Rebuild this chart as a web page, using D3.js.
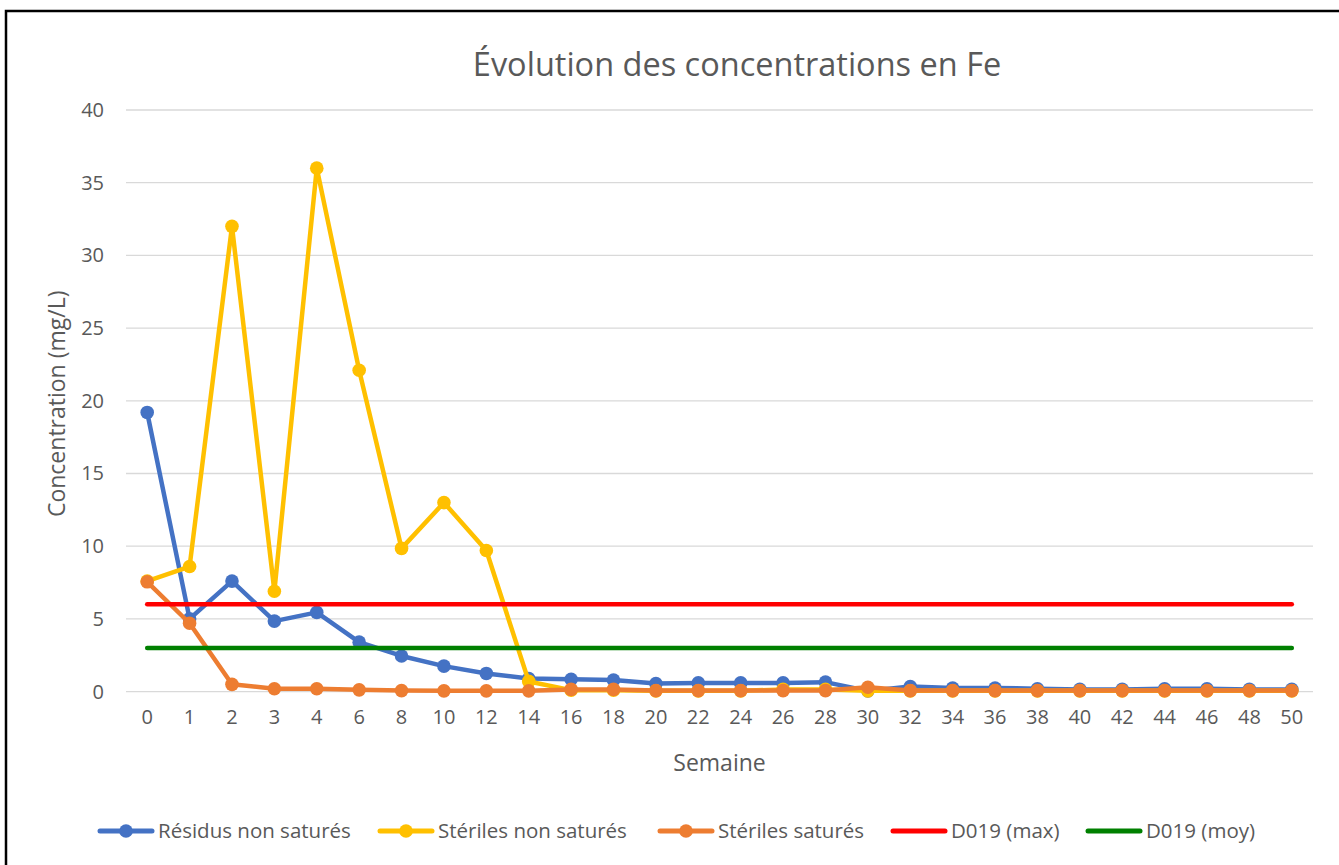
<!DOCTYPE html>
<html>
<head>
<meta charset="utf-8">
<script src="https://cdn.jsdelivr.net/npm/d3@7"></script>
<style>
  body { margin: 0; background: #fff; }
  svg { display: block; font-family: "Open Sans", "Liberation Sans", sans-serif; }
</style>
</head>
<body>
<svg id="chart" width="1339" height="865"></svg>
<script>
// semaines (axe x categoriel)
var weeks = ["0","1","2","3","4","6","8","10","12","14","16","18","20","22","24","26","28","30","32","34","36","38","40","42","44","46","48","50"];

var residusNonSat = [19.2, 5.0, 7.6, 4.85, 5.45, 3.4, 2.45, 1.75, 1.25, 0.9, 0.85, 0.8, 0.55, 0.6, 0.6, 0.6, 0.65, 0.05, 0.35, 0.25, 0.25, 0.2, 0.15, 0.15, 0.2, 0.2, 0.15, 0.15];
var sterilesNonSat = [7.6, 8.6, 32.0, 6.9, 36.0, 22.1, 9.85, 13.0, 9.7, 0.7, 0.1, 0.1, 0.05, 0.05, 0.05, 0.15, 0.15, 0.05, 0.05, 0.05, 0.05, 0.05, 0.05, 0.05, 0.05, 0.05, 0.05, 0.05];
var sterilesSat = [7.55, 4.7, 0.5, 0.2, 0.2, 0.12, 0.07, 0.05, 0.05, 0.05, 0.15, 0.15, 0.07, 0.07, 0.07, 0.07, 0.07, 0.3, 0.07, 0.07, 0.07, 0.07, 0.07, 0.07, 0.07, 0.07, 0.07, 0.07];
var d019max = 6;
var d019moy = 3;

var yTicks = [0, 5, 10, 15, 20, 25, 30, 35, 40];

var series = [
  {name: "Résidus non saturés", color: "#4472C4", values: residusNonSat, marker: true},
  {name: "Stériles non saturés", color: "#FFC000", values: sterilesNonSat, marker: true},
  {name: "Stériles saturés", color: "#ED7D31", values: sterilesSat, marker: true},
  {name: "D019 (max)", color: "#FF0000", values: weeks.map(function() { return d019max; }), marker: false},
  {name: "D019 (moy)", color: "#008000", values: weeks.map(function() { return d019moy; }), marker: false}
];

var svg = d3.select("#chart");
var textColor = "#595959";
var fontFam = "'Open Sans', sans-serif";

var plot = {left: 126, right: 1313, top: 110, bottom: 691.6};

var x = d3.scaleBand().domain(weeks).range([plot.left, plot.right]);
var y = d3.scaleLinear().domain([0, 40]).range([plot.bottom, plot.top]);
var cx = function(i) { return x(weeks[i]) + x.bandwidth() / 2; };

// cadre
svg.append("rect")
  .attr("x", 6).attr("y", 11)
  .attr("width", 1400).attr("height", 900)
  .attr("fill", "none").attr("stroke", "#000").attr("stroke-width", 2.5);

// titre
svg.append("text")
  .attr("x", 737).attr("y", 76)
  .attr("text-anchor", "middle")
  .attr("fill", textColor)
  .style("font-size", "32.5px")
  .text("Évolution des concentrations en Fe");

// grille
svg.append("g").selectAll("line").data(yTicks).enter().append("line")
  .attr("x1", plot.left).attr("x2", plot.right)
  .attr("y1", function(d) { return y(d); }).attr("y2", function(d) { return y(d); })
  .attr("stroke", "#D9D9D9").attr("stroke-width", 1.3);

// axe y
var yAxis = svg.append("g")
  .attr("transform", "translate(" + (plot.left - 22) + ",0)")
  .call(d3.axisLeft(y).tickValues(yTicks).tickSize(0).tickPadding(0));
yAxis.select(".domain").remove();
yAxis.selectAll("text").attr("fill", textColor).style("font-size", "20px").style("font-family", fontFam);

// axe x
var xAxis = svg.append("g")
  .attr("transform", "translate(0," + (plot.bottom + 18) + ")")
  .call(d3.axisBottom(x).tickSize(0).tickPadding(0));
xAxis.select(".domain").remove();
xAxis.selectAll("text").attr("fill", textColor).style("font-size", "20px").style("font-family", fontFam);

// titres des axes
svg.append("text")
  .attr("transform", "translate(65," + ((plot.top + plot.bottom) / 2 + 3) + ") rotate(-90)")
  .attr("text-anchor", "middle")
  .attr("fill", textColor)
  .style("font-size", "23px")
  .text("Concentration (mg/L)");

svg.append("text")
  .attr("x", (plot.left + plot.right) / 2).attr("y", 771)
  .attr("text-anchor", "middle")
  .attr("fill", textColor)
  .style("font-size", "23px")
  .text("Semaine");

// series
var line = d3.line()
  .x(function(d, i) { return cx(i); })
  .y(function(d) { return y(d); });

series.forEach(function(s) {
  var g = svg.append("g");
  g.append("path")
    .attr("d", line(s.values))
    .attr("fill", "none")
    .attr("stroke", s.color)
    .attr("stroke-width", 4.5)
    .attr("stroke-linejoin", "round")
    .attr("stroke-linecap", "round");
  if (s.marker) {
    g.selectAll("circle").data(s.values).enter().append("circle")
      .attr("cx", function(d, i) { return cx(i); })
      .attr("cy", function(d) { return y(d); })
      .attr("r", 6.8)
      .attr("fill", s.color);
  }
});

// legende
var legendX = [100, 380, 660, 893, 1088];
var legend = svg.append("g");
series.forEach(function(s, k) {
  var lg = legend.append("g").attr("transform", "translate(" + legendX[k] + ",831)");
  lg.append("line")
    .attr("x1", 0).attr("x2", 52)
    .attr("stroke", s.color).attr("stroke-width", 5)
    .attr("stroke-linecap", "round");
  if (s.marker) {
    lg.append("circle").attr("cx", 26).attr("r", 6.8).attr("fill", s.color);
  }
  lg.append("text")
    .attr("x", 58).attr("y", 7)
    .attr("fill", textColor)
    .style("font-size", "20.5px")
    .text(s.name);
});
</script>
</body>
</html>
